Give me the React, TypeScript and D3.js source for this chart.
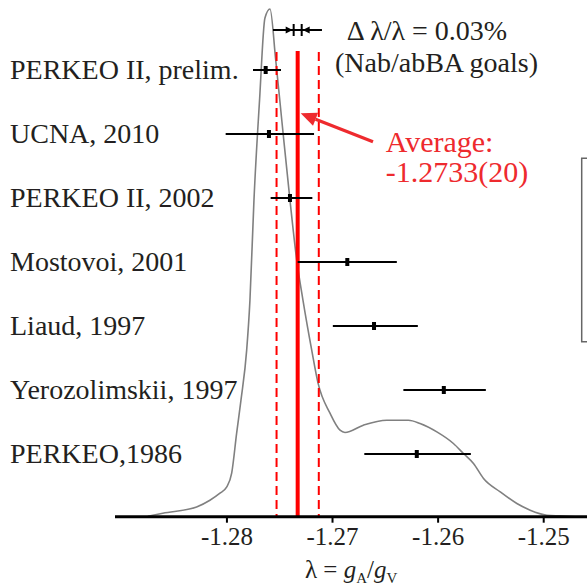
import React from "react";
import * as d3 from "d3";

const labels = [
  "PERKEO II, prelim.",
  "UCNA, 2010",
  "PERKEO II, 2002",
  "Mostovoi, 2001",
  "Liaud, 1997",
  "Yerozolimskii, 1997",
  "PERKEO,1986",
];
const values = [-1.27633, -1.27602, -1.27403, -1.2686, -1.26607, -1.25946, -1.26202];
const errLo = [0.0012, 0.0041, 0.00183, 0.0047, 0.0039, 0.00383, 0.00497];
const errHi = [0.00145, 0.00427, 0.00212, 0.00469, 0.00415, 0.00398, 0.00512];

const average = -1.2733;
const averageErr = 0.002;
const goalCenter = -1.2733;
const goalErr = 0.00038;
const goalSpan = [-1.27564, -1.271];

const tickValues = [-1.28, -1.27, -1.26, -1.25];

const densLambda = [
  -1.28749, -1.28607, -1.28287, -1.28161, -1.28066, -1.28003, -1.27955, -1.27908,
  -1.27867, -1.27813, -1.27782, -1.27744, -1.27691, -1.2764, -1.27592, -1.27538,
  -1.27479, -1.27403, -1.27339, -1.2728, -1.27197, -1.27137, -1.27024, -1.26929,
  -1.26882, -1.26708, -1.26486, -1.26281, -1.26171, -1.26012, -1.25855, -1.2576,
  -1.25665, -1.2557, -1.25412, -1.25254, -1.25128, -1.2497, -1.24844, -1.247,
];
const densValue = [
  0.001, 0.0069, 0.0193, 0.0325, 0.0463, 0.0581, 0.0857, 0.1645,
  0.2296, 0.3281, 0.4266, 0.6236, 0.8207, 0.9823, 1.0, 0.8995,
  0.778, 0.6236, 0.5054, 0.4266, 0.328, 0.263, 0.2039, 0.1704,
  0.1659, 0.1803, 0.1901, 0.1901, 0.1836, 0.1671, 0.1442, 0.1245,
  0.1048, 0.0753, 0.0489, 0.026, 0.0128, 0.003, 0.0016, 0.0,
];

const W = 587;
const H = 586;
const FONT = "'Liberation Serif', 'Times New Roman', serif";
const RED = "#ff0000";
const RED_TEXT = "#ee2a2e";
const INK = "#231f20";

export default function App() {
  const x = d3.scaleLinear().domain([-1.2906, -1.2459]).range([115, 587]);
  const yDens = d3.scaleLinear().domain([0, 1]).range([516.7, 9]);
  const yRow = d3.scalePoint<string>().domain(labels).range([70, 454]);
  const axisY = 516.7;

  const densPts: [number, number][] = densLambda.map((l, i) => [l, densValue[i]]);
  const densPath = d3
    .line<[number, number]>()
    .x((d) => x(d[0]))
    .y((d) => yDens(d[1]))
    .curve(d3.curveMonotoneX)(densPts) as string;

  const goalY = 30;
  const gl = x(goalCenter - goalErr);
  const gr = x(goalCenter + goalErr);

  const arrowStart: [number, number] = [373, 141.7];
  const arrowTip: [number, number] = [x(average) + 3, 113.3];
  const ang = Math.atan2(arrowTip[1] - arrowStart[1], arrowTip[0] - arrowStart[0]);
  const ah = 16;
  const aw = 7;
  const baseX = arrowTip[0] - ah * Math.cos(ang);
  const baseY = arrowTip[1] - ah * Math.sin(ang);
  const headPts = [
    arrowTip,
    [baseX + aw * Math.sin(ang), baseY - aw * Math.cos(ang)],
    [baseX - aw * Math.sin(ang), baseY + aw * Math.cos(ang)],
  ]
    .map((p) => p.join(","))
    .join(" ");

  return (
    <svg
      width={W}
      height={H}
      style={{ position: "fixed", left: 0, top: 0, background: "#fff" }}
      fontFamily={FONT}
    >
      <rect x={0} y={0} width={W} height={H} fill="#fff" />

      <path d={densPath} fill="none" stroke="#808080" strokeWidth={1.6} />

      <line x1={x(average)} x2={x(average)} y1={51} y2={axisY} stroke={RED} strokeWidth={4} />
      {[average - averageErr, average + averageErr].map((v, i) => (
        <line
          key={i}
          x1={x(v)}
          x2={x(v)}
          y1={52}
          y2={axisY}
          stroke={RED}
          strokeWidth={2}
          strokeDasharray="9,5"
        />
      ))}

      <line x1={x(goalSpan[0])} x2={x(goalSpan[1])} y1={goalY} y2={goalY} stroke="#000" strokeWidth={2} />
      <line x1={gl} x2={gl} y1={goalY - 6} y2={goalY + 6} stroke="#000" strokeWidth={2} />
      <line x1={gr} x2={gr} y1={goalY - 6} y2={goalY + 6} stroke="#000" strokeWidth={2} />
      <polygon points={`${gl - 1},${goalY} ${gl - 8},${goalY - 3.5} ${gl - 8},${goalY + 3.5}`} fill="#000" />
      <polygon points={`${gr + 1},${goalY} ${gr + 8},${goalY - 3.5} ${gr + 8},${goalY + 3.5}`} fill="#000" />

      {labels.map((lab, i) => {
        const yy = yRow(lab) as number;
        return (
          <g key={lab}>
            <line
              x1={x(values[i] - errLo[i])}
              x2={x(values[i] + errHi[i])}
              y1={yy}
              y2={yy}
              stroke="#000"
              strokeWidth={2}
            />
            <rect x={x(values[i]) - 2} y={yy - 4} width={4} height={8} fill="#000" />
            <text x={10} y={yy + 8.5} fontSize={28} fill={INK}>
              {lab}
            </text>
          </g>
        );
      })}

      <text x={346.7} y={40} fontSize={28} fill={INK}>
        Δ λ/λ = 0.03%
      </text>
      <text x={335} y={72} fontSize={28} fill={INK}>
        (Nab/abBA goals)
      </text>
      <text x={385.7} y={151.7} fontSize={30} fill={RED_TEXT}>
        Average:
      </text>
      <text x={385.7} y={181.7} fontSize={30} fill={RED_TEXT}>
        -1.2733(20)
      </text>
      <line
        x1={arrowStart[0]}
        y1={arrowStart[1]}
        x2={baseX}
        y2={baseY}
        stroke={RED_TEXT}
        strokeWidth={3.2}
      />
      <polygon points={headPts} fill={RED_TEXT} />

      <path d="M590,158.3 H581.7 V341.7 H590" fill="none" stroke="#666" strokeWidth={1.5} />

      <line x1={115} x2={W} y1={axisY} y2={axisY} stroke="#000" strokeWidth={3} />
      {tickValues.map((t) => (
        <g key={t}>
          <line x1={x(t)} x2={x(t)} y1={axisY} y2={axisY + 6} stroke="#000" strokeWidth={2} />
          <text x={x(t)} y={545} fontSize={25} textAnchor="middle" fill={INK}>
            {d3.format(".2f")(t).replace("−", "-")}
          </text>
        </g>
      ))}
      <text x={305} y={578} fontSize={25} fill={INK}>
        λ =
        <tspan fontStyle="italic"> g</tspan>
        <tspan fontSize={15} dy={5}>A</tspan>
        <tspan dy={-5}>/</tspan>
        <tspan fontStyle="italic">g</tspan>
        <tspan fontSize={15} dy={5}>V</tspan>
      </text>
    </svg>
  );
}
